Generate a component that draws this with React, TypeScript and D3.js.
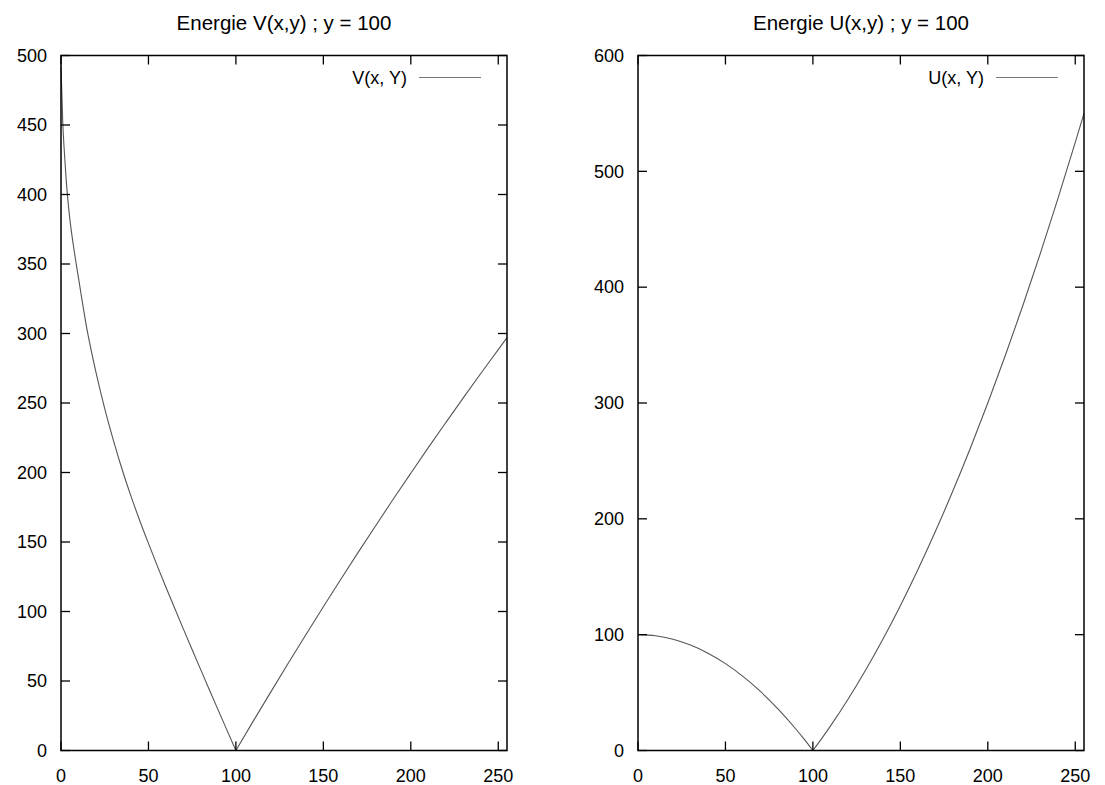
import React from "react";
import * as d3 from "d3";

const vX = [0, 1, 2, 3, 5, 7, 10, 15, 20, 25, 30, 35, 40, 45, 50, 55, 60, 65, 70, 75, 80, 85, 90, 95, 100, 110, 120, 130, 140, 150, 160, 170, 180, 190, 200, 210, 220, 230, 240, 250, 255];
const vY = [492, 452, 429, 410, 383, 364, 340, 302, 272, 246, 223, 202, 183, 165.5, 149, 133, 117.5, 102.3, 87.3, 72.5, 57.8, 43.2, 28.7, 14.3, 0, 21.3, 42.2, 62.9, 83.3, 103.4, 123.2, 142.7, 161.9, 180.9, 199.5, 217.9, 235.9, 253.7, 271.2, 288.4, 297];

const uX = [0, 10, 20, 30, 40, 50, 60, 70, 80, 90, 95, 100, 105, 110, 120, 130, 140, 150, 160, 170, 180, 190, 200, 210, 220, 230, 240, 250, 255];
const uY = [100, 99, 96, 91, 84, 75, 64, 51, 36, 19, 9.75, 0, 10.25, 21, 44, 69, 96, 125, 156, 189, 224, 261, 300, 341, 384, 429, 476, 525, 550];

const xTicks = [0, 50, 100, 150, 200, 250];
const vTicks = [0, 50, 100, 150, 200, 250, 300, 350, 400, 450, 500];
const uTicks = [0, 100, 200, 300, 400, 500, 600];

const FONT = "'Liberation Sans', Arial, Helvetica, sans-serif";

type PanelProps = {
  left: number;
  right: number;
  top: number;
  bottom: number;
  xs: number[];
  ys: number[];
  yMax: number;
  yTicks: number[];
  title: string;
  legend: string;
};

function Panel({ left, right, top, bottom, xs, ys, yMax, yTicks, title, legend }: PanelProps) {
  const x = d3.scaleLinear().domain([0, 255]).range([left, right]);
  const y = d3.scaleLinear().domain([0, yMax]).range([bottom, top]);
  const pts: [number, number][] = xs.map((v, i) => [v, ys[i]]);
  const seg1 = pts.filter((p) => p[0] <= 100);
  const seg2 = pts.filter((p) => p[0] >= 100);
  const line = d3
    .line<[number, number]>()
    .x((d) => x(d[0]))
    .y((d) => y(d[1]))
    .curve(d3.curveMonotoneX);
  const tl = 9;
  const fs = 18;
  return (
    <g>
      <text x={(left + right) / 2} y={top - 26} textAnchor="middle" fontFamily={FONT} fontSize={20.5} fill="#000">
        {title}
      </text>
      <path d={line(seg1) || ""} fill="none" stroke="#555" strokeWidth={1.1} />
      <path d={line(seg2) || ""} fill="none" stroke="#555" strokeWidth={1.1} />
      {xTicks.map((t) => (
        <g key={"x" + t}>
          <line x1={x(t)} x2={x(t)} y1={bottom} y2={bottom - tl} stroke="#000" strokeWidth={1.3} />
          <line x1={x(t)} x2={x(t)} y1={top} y2={top + tl} stroke="#000" strokeWidth={1.3} />
          <text x={x(t)} y={bottom + 31} textAnchor="middle" fontFamily={FONT} fontSize={fs} fill="#000">
            {t}
          </text>
        </g>
      ))}
      {yTicks.map((t) => (
        <g key={"y" + t}>
          <line x1={left} x2={left + tl} y1={y(t)} y2={y(t)} stroke="#000" strokeWidth={1.3} />
          <line x1={right} x2={right - tl} y1={y(t)} y2={y(t)} stroke="#000" strokeWidth={1.3} />
          <text x={left - 14} y={y(t)} dy="0.35em" textAnchor="end" fontFamily={FONT} fontSize={fs} fill="#000">
            {t}
          </text>
        </g>
      ))}
      <rect x={left} y={top} width={right - left} height={bottom - top} fill="none" stroke="#000" strokeWidth={1.5} />
      <text x={right - 100} y={top + 22} dy="0.35em" textAnchor="end" fontFamily={FONT} fontSize={fs} fill="#000">
        {legend}
      </text>
      <line x1={right - 88} x2={right - 26} y1={top + 22} y2={top + 22} stroke="#777" strokeWidth={1} />
    </g>
  );
}

export default function App() {
  return (
    <svg
      width={1105}
      height={785}
      style={{ position: "absolute", left: 0, top: 0, background: "#fff" }}
    >
      <rect x={0} y={0} width={1105} height={785} fill="#fff" />
      <Panel
        left={61}
        right={507}
        top={55.5}
        bottom={750.5}
        xs={vX}
        ys={vY}
        yMax={500}
        yTicks={vTicks}
        title="Energie V(x,y) ; y = 100"
        legend="V(x, Y)"
      />
      <Panel
        left={638}
        right={1084}
        top={55.5}
        bottom={750.5}
        xs={uX}
        ys={uY}
        yMax={600}
        yTicks={uTicks}
        title="Energie U(x,y) ; y = 100"
        legend="U(x, Y)"
      />
    </svg>
  );
}
